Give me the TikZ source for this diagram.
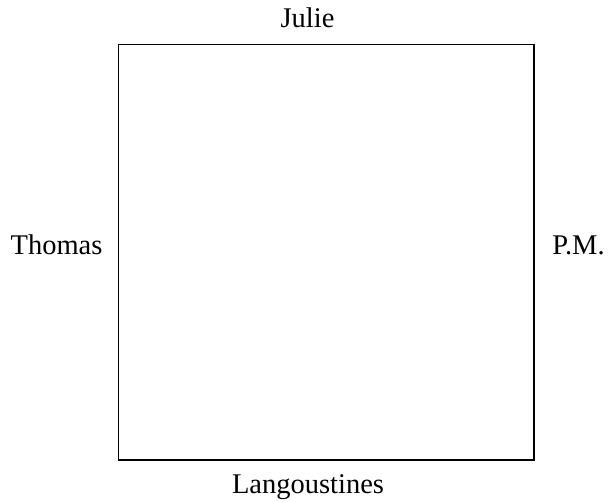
\documentclass[tikz,border=0pt]{standalone}
\usepackage{fontspec}
\setmainfont{Liberation Serif}
\begin{document}
\begin{tikzpicture}[x=1pt,y=-1pt,
  lbl/.style={inner sep=0pt,anchor=base,font=\fontsize{28.5}{32}\selectfont},
  board/.style={draw=black,line width=1.3pt,inner sep=0pt,minimum width=415.5pt,minimum height=415.5pt}]
\useasboundingbox (0,0) rectangle (610,502);
\node[board] (sq) at (326.2,252.2) {};
\node[lbl] (julie) at (307.5,28) {Julie};
\node[lbl] (lang) at (308,493) {Langoustines};
\node[lbl] (thomas) at (56.5,255) {Thomas};
\node[lbl] (pm) at (578.5,255) {P.M.};
\end{tikzpicture}
\end{document}
